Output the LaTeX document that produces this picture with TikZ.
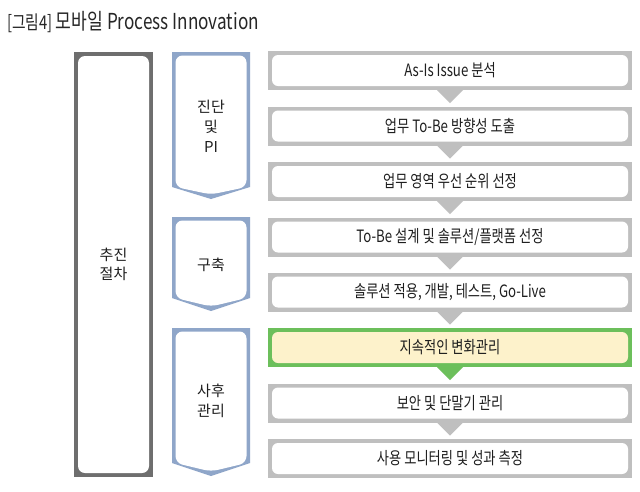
\documentclass[tikz,border=0pt]{standalone}
\usepackage{fontspec}
\setmainfont{Noto Sans CJK KR}
\newfontfamily\condfont[FakeStretch=0.78]{Noto Sans CJK KR}
\definecolor{darkframe}{HTML}{6E6E6E}
\definecolor{framegray}{HTML}{BFBFBF}
\definecolor{stageblue}{HTML}{8FA6C9}
\definecolor{framegreen}{HTML}{6CBF5B}
\definecolor{hlfill}{HTML}{FDF2CB}
\definecolor{txt}{HTML}{1E1E1E}
\tikzset{
  stepbox/.style={fill=white, rounded corners=6pt, minimum width=356pt, minimum height=31pt,
    inner sep=0pt, font=\condfont\fontsize{17}{18}\selectfont, text=txt},
  stagetext/.style={align=center, font=\fontsize{15}{20}\selectfont, text=txt, inner sep=0pt},
}
\newcommand{\stepat}[5]{%
  \fill[#4] (268,#2-19.5) rectangle (632,#2+19.5);
  \node[stepbox, fill=#5] (#1) at (450,#2) {#3};
}
\newcommand{\stageshape}[3]{%
  \fill[stageblue] (172,#1) -- (250,#1) -- (250,#2) -- (211,#3) -- (172,#2) -- cycle;
  \fill[white, rounded corners=7pt] (175.5,#1+3.5) -- (246.5,#1+3.5) -- (246.5,#2) -- (211,#3-4.5) -- (175.5,#2) -- cycle;
}
\newcommand{\downtri}[2]{%
  \fill[#2] ([shift={(-13,4)}]#1.south) -- ([shift={(13,4)}]#1.south) -- ([shift={(0,17)}]#1.south) -- cycle;
}
\begin{document}
\begin{tikzpicture}[x=1pt,y=-1pt]
\useasboundingbox (0,0) rectangle (640,491);
\fill[white] (0,0) rectangle (640,491);
% title
\node[anchor=west, inner sep=0pt, text=black!85] (title) at (7,22)
  {\condfont\fontsize{19}{20}\selectfont [그림4]\,\fontsize{22}{24}\selectfont 모바일 Process Innovation};
% left main box
\fill[darkframe] (74,52) rectangle (153,477);
\node[fill=white, rounded corners=7pt, minimum width=71pt, minimum height=417pt, inner sep=0pt,
  align=center, font=\fontsize{15}{19}\selectfont, text=txt] (main) at (113.5,264.5) {추진\\절차};
% stages
\stageshape{52}{187}{199}
\node[stagetext] (s1) at (211,126.5) {진단\\및\\PI};
\stageshape{217}{298}{311}
\node[stagetext] (s2) at (211,265) {구축};
\stageshape{328}{463}{476}
\node[stagetext] (s3) at (211,401) {사후\\관리};
% steps
\stepat{b1}{70.5}{As-Is Issue 분석}{framegray}{white}
\stepat{b2}{126}{업무 To-Be 방향성 도출}{framegray}{white}
\stepat{b3}{181.5}{업무 영역 우선 순위 선정}{framegray}{white}
\stepat{b4}{237}{To-Be 설계 및 솔루션/플랫폼 선정}{framegray}{white}
\stepat{b5}{292}{솔루션 적용, 개발, 테스트, Go-Live}{framegray}{white}
\stepat{b6}{347.5}{지속적인 변화관리}{framegreen}{hlfill}
\stepat{b7}{403}{보안 및 단말기 관리}{framegray}{white}
\stepat{b8}{458.5}{사용 모니터링 및 성과 측정}{framegray}{white}
\downtri{b1}{framegray}
\downtri{b2}{framegray}
\downtri{b3}{framegray}
\downtri{b4}{framegray}
\downtri{b5}{framegray}
\downtri{b6}{framegreen}
\downtri{b7}{framegray}
\end{tikzpicture}
\end{document}
